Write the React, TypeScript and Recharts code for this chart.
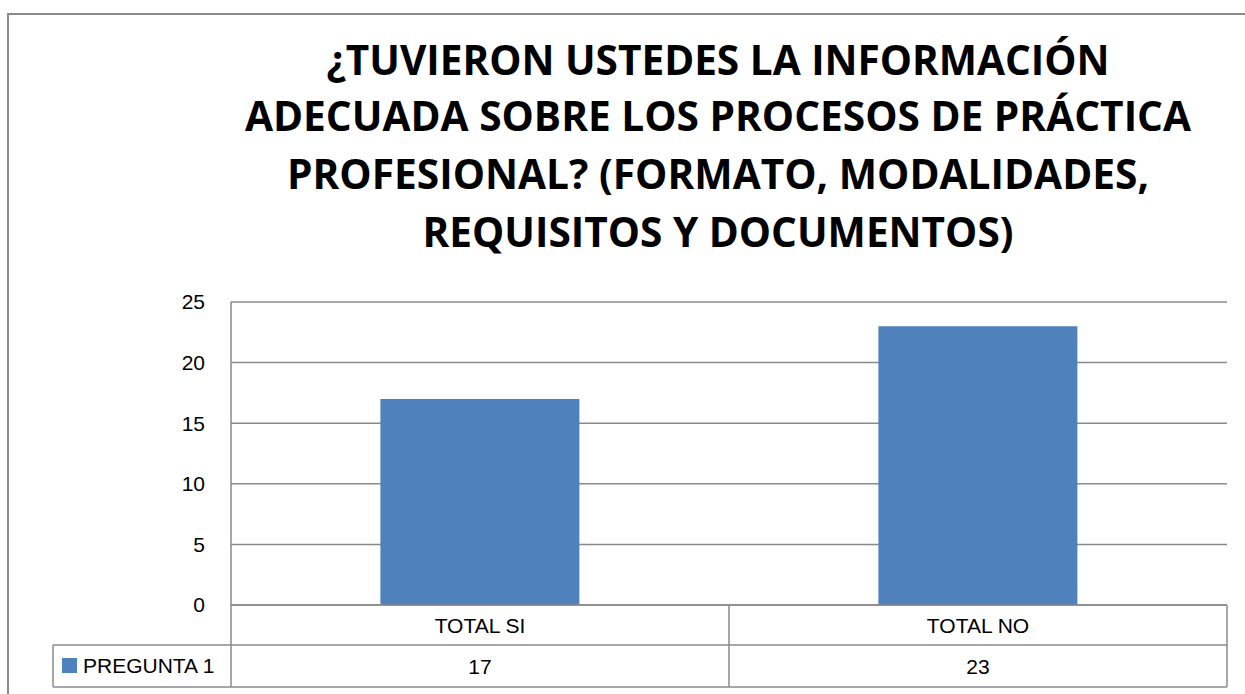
import { Bar, BarChart, CartesianGrid, XAxis, YAxis } from 'recharts'

// datos del gráfico
const categories = ['TOTAL SI', 'TOTAL NO']
const seriesName = 'PREGUNTA 1'
const values = [17, 23]
const yTicks = [0, 5, 10, 15, 20, 25]
const titleLines = [
  '¿TUVIERON USTEDES LA INFORMACIÓN',
  'ADECUADA SOBRE LOS PROCESOS DE PRÁCTICA',
  'PROFESIONAL? (FORMATO, MODALIDADES,',
  'REQUISITOS Y DOCUMENTOS)',
]

const W = 1245
const H = 694
const PLOT_LEFT = 231
const PLOT_RIGHT = 1227
const PLOT_TOP = 302
const PLOT_BOTTOM = 605
const ROW1_BOTTOM = 645
const ROW2_BOTTOM = 687
const LEGEND_LEFT = 53
const X_AXIS_H = 83
const Y_AXIS_W = 60
const BAR_COLOR = '#4F81BD'
const LINE_COLOR = '#8a8a8a'
const FONT = '"Liberation Sans", Arial, sans-serif'

const chartData = categories.map((name, i) => ({ name, value: values[i] }))

// tabla de datos debajo del eje X
const TableTick = (props: any) => {
  const { x, index, payload } = props
  const band = (PLOT_RIGHT - PLOT_LEFT) / categories.length
  const right = x + band / 2
  return (
    <g>
      {index === 0 && (
        <g>
          <line x1={LEGEND_LEFT} y1={ROW1_BOTTOM} x2={PLOT_RIGHT} y2={ROW1_BOTTOM} stroke={LINE_COLOR} strokeWidth={1.5} />
          <line x1={LEGEND_LEFT} y1={ROW2_BOTTOM} x2={PLOT_RIGHT} y2={ROW2_BOTTOM} stroke={LINE_COLOR} strokeWidth={1.5} />
          <line x1={LEGEND_LEFT} y1={ROW1_BOTTOM} x2={LEGEND_LEFT} y2={ROW2_BOTTOM} stroke={LINE_COLOR} strokeWidth={1.5} />
          <line x1={PLOT_LEFT} y1={PLOT_BOTTOM} x2={PLOT_LEFT} y2={ROW2_BOTTOM} stroke={LINE_COLOR} strokeWidth={1.5} />
          <rect x={62} y={658} width={15} height={15} fill={BAR_COLOR} />
          <text x={83} y={673} fontSize={21} fontFamily={FONT} fill="#000">
            {seriesName}
          </text>
        </g>
      )}
      <line x1={right} y1={PLOT_BOTTOM} x2={right} y2={ROW2_BOTTOM} stroke={LINE_COLOR} strokeWidth={1.5} />
      <text x={x} y={633} textAnchor="middle" fontSize={21} fontFamily={FONT} fill="#000">
        {payload.value}
      </text>
      <text x={x} y={674} textAnchor="middle" fontSize={21} fontFamily={FONT} fill="#000">
        {values[index]}
      </text>
    </g>
  )
}

export default function App() {
  const titleWidths = [783, 946, 862, 591]
  const titleBaselines = [75, 131, 189, 247]
  return (
    <div style={{ position: 'absolute', left: 0, top: 0, width: W, height: H, overflow: 'hidden', background: '#fff' }}>
      <div
        style={{
          position: 'absolute',
          left: 7,
          top: 13,
          width: W + 20,
          height: H + 20,
          border: `2px solid ${LINE_COLOR}`,
        }}
      />
      <svg width={W} height={H} style={{ position: 'absolute', left: 0, top: 0 }}>
        {titleLines.map((t, i) => (
          <text
            key={i}
            x={718}
            y={titleBaselines[i]}
            textAnchor="middle"
            fontSize={42}
            fontWeight="bold"
            fontFamily='"Open Sans", sans-serif'
            textLength={titleWidths[i]}
            lengthAdjust="spacingAndGlyphs"
            fill="#000"
          >
            {t}
          </text>
        ))}
      </svg>
      <div style={{ position: 'absolute', left: 0, top: 0 }}>
        <BarChart
          width={W}
          height={H}
          data={chartData}
          margin={{ top: PLOT_TOP, right: W - PLOT_RIGHT, left: PLOT_LEFT - Y_AXIS_W, bottom: H - PLOT_BOTTOM - X_AXIS_H }}
          barCategoryGap="30%"
        >
          <CartesianGrid vertical={false} stroke={LINE_COLOR} strokeWidth={1.5} />
          <XAxis
            dataKey="name"
            height={X_AXIS_H}
            axisLine={{ stroke: LINE_COLOR, strokeWidth: 1.5 }}
            tickLine={false}
            tick={<TableTick />}
            interval={0}
          />
          <YAxis
            domain={[0, 25]}
            ticks={yTicks}
            width={Y_AXIS_W}
            axisLine={{ stroke: LINE_COLOR, strokeWidth: 1.5 }}
            tickLine={false}
            tickSize={0}
            tickMargin={26}
            tick={{ fontSize: 21, fontFamily: FONT, fill: '#000' }}
          />
          <Bar dataKey="value" fill={BAR_COLOR} isAnimationActive={false} />
        </BarChart>
      </div>
    </div>
  )
}
